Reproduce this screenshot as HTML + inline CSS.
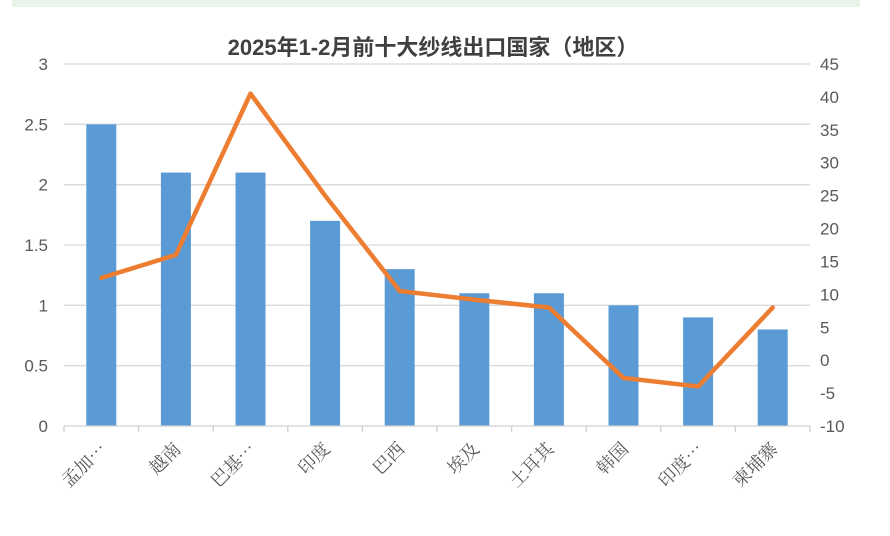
<!DOCTYPE html>
<html><head><meta charset="utf-8"><style>
body{margin:0;background:#fff;width:890px;height:531px;overflow:hidden}
</style></head><body>
<svg id="chart" width="890" height="531" xmlns="http://www.w3.org/2000/svg">
<rect x="12" y="0" width="848" height="7" fill="#e8f4ea"/>
<text x="433" y="55" text-anchor="middle" font-family="'Liberation Sans','Noto Sans CJK SC',sans-serif" font-weight="bold" font-size="22" fill="#404040">2025年1-2月前十大纱线出口国家（地区）</text>
<g id="grid"></g><g id="bars"></g><g id="line"></g><g id="axes"></g>
</svg>
<script>
const categories=["孟加…","越南","巴基…","印度","巴西","埃及","土耳其","韩国","印度…","柬埔寨"];
const barValues=[2.5,2.1,2.1,1.7,1.3,1.1,1.1,1.0,0.9,0.8];
const lineValues=[12.5,16,40.5,25,10.5,9.2,8,-2.7,-4,8];
const leftTicks=[0,0.5,1,1.5,2,2.5,3];
const rightTicks=[-10,-5,0,5,10,15,20,25,30,35,40,45];
const NS="http://www.w3.org/2000/svg";
const x0=64,x1=810,yTop=64,yBot=426;
const band=(x1-x0)/categories.length;
const xc=i=>x0+band*(i+0.5);
const yL=v=>yBot-(v-0)/(3-0)*(yBot-yTop);
const yR=v=>yBot-(v+10)/(55)*(yBot-yTop);
function mk(tag,attrs,parent,text){const e=document.createElementNS(NS,tag);for(const k in attrs)e.setAttribute(k,attrs[k]);if(text!=null)e.textContent=text;document.getElementById(parent).appendChild(e);return e;}
const font="'Liberation Sans','Noto Sans CJK SC',sans-serif";
leftTicks.forEach(t=>{
 if(t>0){const g=mk('line',{x1:x0,x2:x1,y1:yL(t),y2:yL(t),stroke:'#d9d9d9','stroke-width':1.3},'grid');
 
 }
 const l=mk('text',{x:48,y:yL(t)+6,'text-anchor':'end','font-family':font,'font-size':17,fill:'#595959'},'axes',String(t));
 
 
});
rightTicks.forEach(t=>{
 const l=mk('text',{x:820,y:yR(t)+6,'text-anchor':'start','font-family':font,'font-size':17,fill:'#595959'},'axes',String(t));
 
 
});
const ax=mk('line',{x1:x0,x2:x1,y1:yBot,y2:yBot,stroke:'#d0d0d0','stroke-width':1.3},'axes');


for(let i=0;i<=categories.length;i++){
 const t=mk('line',{x1:x0+band*i,x2:x0+band*i,y1:yBot,y2:yBot+6,stroke:'#d0d0d0','stroke-width':1.3},'axes');
 
 
}
categories.forEach((c,i)=>{
 const b=mk('rect',{x:xc(i)-15,y:yL(barValues[i]),width:30,height:yBot-yL(barValues[i]),fill:'#5b9bd5'},'bars');
 
 
 const tx=xc(i)+6,ty=yBot+24;
 const l=mk('text',{x:tx,y:ty,'text-anchor':'end','font-family':"'Noto Serif CJK SC','Liberation Serif',serif",'font-size':18,fill:'#595959',transform:`rotate(-45 ${tx} ${ty})`},'axes',c);
 
 
});
const pts=lineValues.map((v,i)=>xc(i)+','+yR(v)).join(' ');
const pl=mk('polyline',{points:pts,fill:'none',stroke:'#ed7d31','stroke-width':4.5,'stroke-linejoin':'round','stroke-linecap':'round'},'line');


</script>
</body></html>
